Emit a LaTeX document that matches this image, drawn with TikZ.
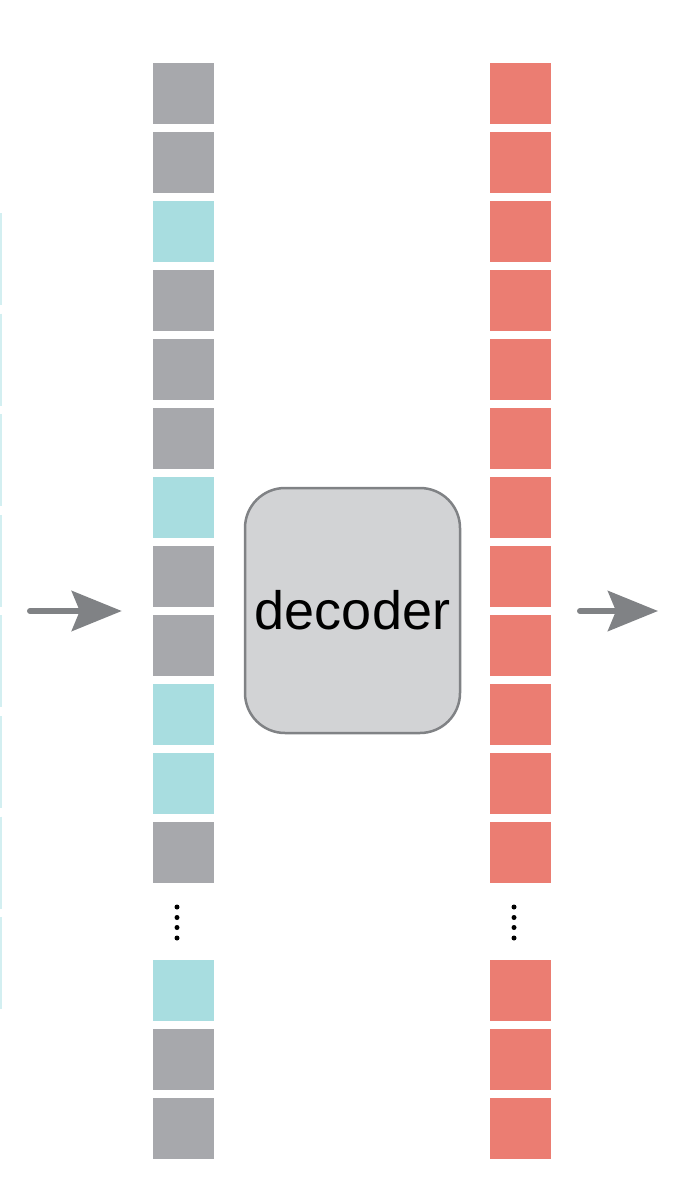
\documentclass[tikz,border=0pt]{standalone}
\usepackage{fontspec}
\setmainfont{Liberation Sans}
\usetikzlibrary{arrows.meta,positioning}
\definecolor{slate}   {HTML}{A7A8AC}
\definecolor{aqua}    {HTML}{A8DDE0}
\definecolor{salmon}  {HTML}{EB7D72}
\definecolor{boxfill} {HTML}{D2D3D5}
\definecolor{edge}    {HTML}{808285}
\definecolor{paleaqua}{HTML}{D3EFF1}
\tikzset{
  tok/.style={minimum width=61pt, minimum height=61pt, inner sep=0pt},
  flow/.style={-{Stealth[length=50pt,width=40pt,inset=8pt]}, edge, line width=6pt, line cap=round},
  vdots/.style={fill=black, circle, inner sep=0pt, minimum size=5pt}
}
\begin{document}
\begin{tikzpicture}[x=1pt, y=-1pt, font=\fontsize{54}{60}\selectfont]
  \useasboundingbox (0,0) rectangle (672,1194);
  % clipped strip at the left border
  \foreach \k in {0,...,7}
    \draw[paleaqua, line width=1.5pt] (0.75,213+100.6*\k) -- ++(0,92);
  % token columns
  \foreach \i/\c in {0/slate,1/slate,2/aqua,3/slate,4/slate,5/slate,6/aqua,7/slate,
                     8/slate,9/aqua,10/aqua,11/slate,13/aqua,14/slate,15/slate} {
    \node[tok, fill=\c] (l\i) at (183.5,93.5+69*\i) {};
    \node[tok, fill=salmon] (r\i) at (520.5,93.5+69*\i) {};
  }
  \foreach \x/\s in {177/ld,514/rd}
    \foreach \j/\y in {0/907,1/917.5,2/927.5,3/938}
      \node[vdots] (\s\j) at (\x,\y) {};
  \node[draw=edge, line width=2.5pt, fill=boxfill, rounded corners=40pt,
        minimum width=215pt, minimum height=245pt] (dec) at (352.5,610.5) {decoder};
  \coordinate (inL) at (30,611);
  \coordinate (outR) at (580,611);
  \draw[flow] (inL) -- ([xshift=-31pt]l7.west |- inL);
  \draw[flow] (outR) -- ++(78,0);
\end{tikzpicture}
\end{document}
